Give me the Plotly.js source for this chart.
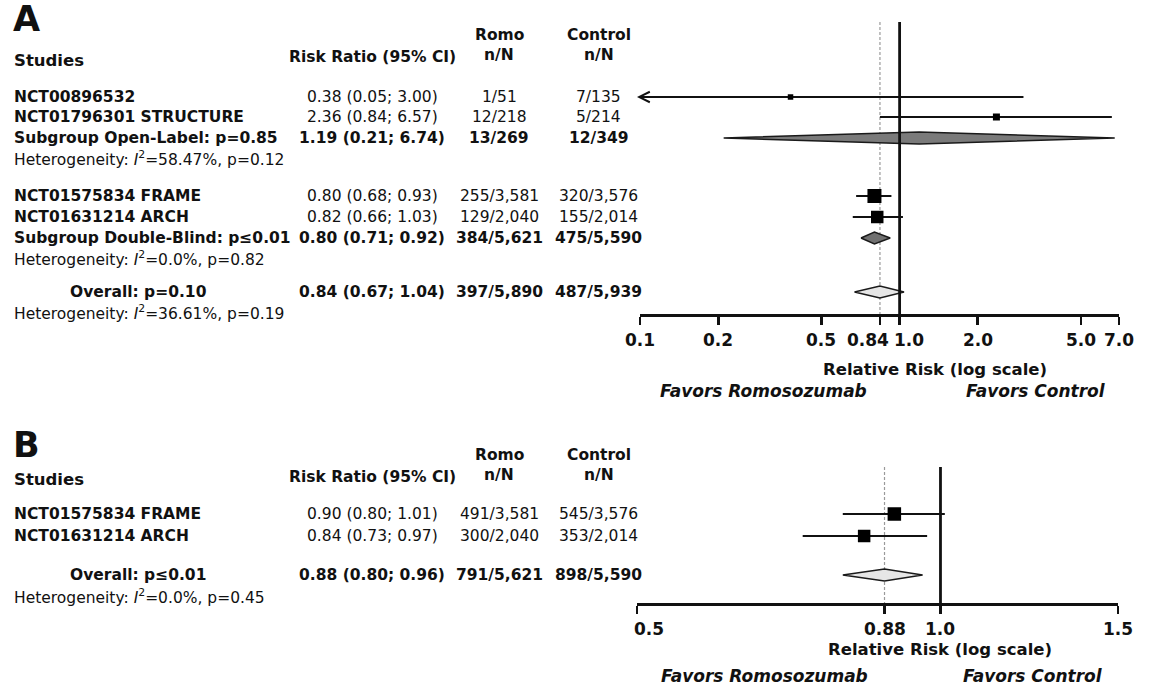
<!DOCTYPE html>
<html><head><meta charset="utf-8">
<script src="https://cdn.plot.ly/plotly-3.0.1.min.js"></script>
<style>html,body{margin:0;padding:0;background:#fff}</style>
</head><body><div id="chart" style="width:1150px;height:686px"></div>
<script>
// ---------- DATA: panel A (fractures, all studies) ----------
const studiesA = ['NCT00896532', 'NCT01796301 STRUCTURE', 'NCT01575834 FRAME', 'NCT01631214 ARCH'];
const rrA = [0.38, 2.36, 0.80, 0.82];
const loA = [0.05, 0.84, 0.68, 0.66];
const hiA = [3.00, 6.57, 0.93, 1.03];
const romoA = ['1/51', '12/218', '255/3,581', '129/2,040'];
const ctrlA = ['7/135', '5/214', '320/3,576', '155/2,014'];

const sumLabelsA = ['Subgroup Open-Label: p=0.85', 'Subgroup Double-Blind: p\u22640.01', 'Overall: p=0.10'];
const sumRrA = [1.19, 0.80, 0.84];
const sumLoA = [0.21, 0.71, 0.67];
const sumHiA = [6.74, 0.92, 1.04];
const sumRomoA = ['13/269', '384/5,621', '397/5,890'];
const sumCtrlA = ['12/349', '475/5,590', '487/5,939'];
const hetI2A = ['58.47%', '0.0%', '36.61%'];
const hetPA = ['0.12', '0.82', '0.19'];

const tickValsA = [0.1, 0.2, 0.5, 0.84, 1.0, 2.0, 5.0, 7.0];
const tickTextA = ['0.1', '0.2', '0.5', '0.84', '1.0', '2.0', '5.0', '7.0'];

// ---------- DATA: panel B ----------
const studiesB = ['NCT01575834 FRAME', 'NCT01631214 ARCH'];
const rrB = [0.90, 0.84];
const loB = [0.80, 0.73];
const hiB = [1.01, 0.97];
const romoB = ['491/3,581', '300/2,040'];
const ctrlB = ['545/3,576', '353/2,014'];

const sumLabelsB = ['Overall: p\u22640.01'];
const sumRrB = [0.88];
const sumLoB = [0.80];
const sumHiB = [0.96];
const sumRomoB = ['791/5,621'];
const sumCtrlB = ['898/5,590'];
const hetI2B = ['0.0%'];
const hetPB = ['0.45'];

const tickValsB = [0.5, 0.88, 1.0, 1.5];
const tickTextB = ['0.5', '0.88', '1.0', '1.5'];

const nullValue = 1.0;

// ---------- LAYOUT / STYLE (positions in page pixels) ----------
const W = 1150, H = 686;
const FONT = 'DejaVu Sans, Verdana, sans-serif';
const TXT = 15.5;
const INK = '#111';

const A = {
  axisY: 315, topY: 22, xDom: [640, 1119],
  studyRows: [97, 117, 196, 217], sumRows: [138, 238, 292], hetRows: [158, 258, 312],
  boxSize: [5.5, 7, 14, 12.5], sumFill: ['#7a7a7a', '#707070', '#e6e6e6'], sumIndent: [false, false, true],
  letterY: 19, headY1: 35, headY2: 55, studiesY: 60, rrHeadY: 57,
  tickLabelY: 340, tickShift: [0, 0, 0, -12, 9, 0, 0, 0],
  titleY: 369, titleX: 935, favY: 391, favL: 763, favR: 1036
};
const B = {
  axisY: 604, topY: 467, xDom: [637, 1118],
  studyRows: [514, 536], sumRows: [575], hetRows: [596],
  boxSize: [13.5, 12.5], sumFill: ['#e6e6e6'], sumIndent: [true],
  letterY: 445, headY1: 455, headY2: 475, studiesY: 479, rrHeadY: 477,
  tickLabelY: 629, tickShift: [12, 0, 0, 0],
  titleY: 649, titleX: 940, favY: 676, favL: 764, favR: 1033
};
const COL = {name: 12, indent: 68, rr: 372, romo: 499, ctrl: 599};

const fmtRR = (v, l, h) => `${v.toFixed(2)} (${l.toFixed(2)}; ${h.toFixed(2)})`;

function txt(x, y, text, opt) {
  return Object.assign({
    xref: 'paper', yref: 'y', x: x / W, y: y, text: text, showarrow: false,
    xanchor: 'left', yanchor: 'middle',
    font: {family: FONT, size: TXT, color: INK}
  }, opt || {});
}

const traces = [];
const annotations = [];

function buildPanel(P, letter, xa, d) {
  // text table
  annotations.push(txt(11, P.letterY, '<b>' + letter + '</b>', {font: {family: FONT, size: 35, color: INK}}));
  annotations.push(txt(COL.name, P.studiesY, '<b>Studies</b>', {font: {family: FONT, size: 16.5, color: INK}}));
  annotations.push(txt(COL.rr, P.rrHeadY, '<b>Risk Ratio (95% CI)</b>', {xanchor: 'center'}));
  annotations.push(txt(COL.romo, P.headY1, '<b>Romo</b>', {xanchor: 'center'}));
  annotations.push(txt(COL.romo, P.headY2, '<b>n/N</b>', {xanchor: 'center'}));
  annotations.push(txt(COL.ctrl, P.headY1, '<b>Control</b>', {xanchor: 'center'}));
  annotations.push(txt(COL.ctrl, P.headY2, '<b>n/N</b>', {xanchor: 'center'}));

  d.studies.forEach((s, i) => {
    const y = P.studyRows[i];
    annotations.push(txt(COL.name, y, '<b>' + s + '</b>'));
    annotations.push(txt(COL.rr, y, fmtRR(d.rr[i], d.lo[i], d.hi[i]), {xanchor: 'center'}));
    annotations.push(txt(COL.romo, y, d.romo[i], {xanchor: 'center'}));
    annotations.push(txt(COL.ctrl, y, d.ctrl[i], {xanchor: 'center'}));
  });
  d.sumLabels.forEach((s, i) => {
    const y = P.sumRows[i];
    annotations.push(txt(P.sumIndent[i] ? COL.indent : COL.name, y, '<b>' + s + '</b>'));
    annotations.push(txt(COL.rr, y, '<b>' + fmtRR(d.sumRr[i], d.sumLo[i], d.sumHi[i]) + '</b>', {xanchor: 'center'}));
    annotations.push(txt(COL.romo, y, '<b>' + d.sumRomo[i] + '</b>', {xanchor: 'center'}));
    annotations.push(txt(COL.ctrl, y, '<b>' + d.sumCtrl[i] + '</b>', {xanchor: 'center'}));
    annotations.push(txt(COL.name, P.hetRows[i],
      'Heterogeneity: <i>I</i><sup>2</sup>=' + d.hetI2[i] + ', p=' + d.hetP[i]));
  });

  const ya = 'y';
  const pooled = d.sumRr[d.sumRr.length - 1];
  // dashed pooled-estimate line
  traces.push({x: [pooled, pooled], y: [P.topY, P.axisY], xaxis: xa, yaxis: ya, mode: 'lines',
    line: {color: '#9a9a9a', width: 1.2, dash: '3px,2px'}, hoverinfo: 'skip'});
  // CI lines
  d.studies.forEach((s, i) => {
    traces.push({x: [d.lo[i], d.hi[i]], y: [P.studyRows[i], P.studyRows[i]], xaxis: xa, yaxis: ya,
      mode: 'lines', line: {color: INK, width: 1.8}, hoverinfo: 'skip'});
  });
  // squares
  traces.push({x: d.rr, y: P.studyRows, xaxis: xa, yaxis: ya, mode: 'markers',
    marker: {symbol: 'square', color: '#000', opacity: 1, size: P.boxSize, line: {width: 0}}, hoverinfo: 'skip'});
  // diamonds
  d.sumRr.forEach((v, i) => {
    const y = P.sumRows[i], h = 6;
    traces.push({x: [d.sumLo[i], v, d.sumHi[i], v, d.sumLo[i]], y: [y, y - h, y, y + h, y],
      xaxis: xa, yaxis: ya, mode: 'lines', fill: 'toself', fillcolor: P.sumFill[i],
      line: {color: '#1a1a1a', width: 1.4}, hoverinfo: 'skip'});
  });
  // line of no effect
  traces.push({x: [nullValue, nullValue], y: [P.topY, P.axisY], xaxis: xa, yaxis: ya, mode: 'lines',
    line: {color: INK, width: 2.8}, hoverinfo: 'skip'});

  // tick labels
  d.tickVals.forEach((v, i) => {
    annotations.push({xref: xa, yref: 'y', x: Math.log10(v), y: P.tickLabelY, text: '<b>' + d.tickText[i] + '</b>',
      showarrow: false, xanchor: 'center', yanchor: 'middle', xshift: P.tickShift[i],
      font: {family: FONT, size: 17, color: INK}});
  });
  annotations.push(txt(P.titleX, P.titleY, '<b>Relative Risk (log scale)</b>', {xanchor: 'center', font: {family: FONT, size: 16.5, color: INK}}));
  annotations.push(txt(P.favL, P.favY, '<b><i>Favors Romosozumab</i></b>', {xanchor: 'center', font: {family: FONT, size: 17, color: INK}}));
  annotations.push(txt(P.favR, P.favY, '<b><i>Favors Control</i></b>', {xanchor: 'center', font: {family: FONT, size: 17, color: INK}}));
}

const dataA = {studies: studiesA, rr: rrA, lo: loA, hi: hiA, romo: romoA, ctrl: ctrlA,
  sumLabels: sumLabelsA, sumRr: sumRrA, sumLo: sumLoA, sumHi: sumHiA, sumRomo: sumRomoA, sumCtrl: sumCtrlA,
  hetI2: hetI2A, hetP: hetPA, tickVals: tickValsA, tickText: tickTextA};
const dataB = {studies: studiesB, rr: rrB, lo: loB, hi: hiB, romo: romoB, ctrl: ctrlB,
  sumLabels: sumLabelsB, sumRr: sumRrB, sumLo: sumLoB, sumHi: sumHiB, sumRomo: sumRomoB, sumCtrl: sumCtrlB,
  hetI2: hetI2B, hetP: hetPB, tickVals: tickValsB, tickText: tickTextB};

buildPanel(A, 'A', 'x', dataA);
buildPanel(B, 'B', 'x2', dataB);

// arrow for CI extending past the left axis limit (panel A)
const minA = tickValsA[0];
loA.forEach((l, i) => {
  if (l < minA) {
    annotations.push({xref: 'x', yref: 'y', axref: 'x', ayref: 'y',
      x: Math.log10(minA), y: A.studyRows[i], ax: Math.log10(minA * 1.3), ay: A.studyRows[i],
      xshift: -3, text: '', showarrow: true, arrowhead: 5, arrowsize: 1.15, arrowwidth: 1.8,
      arrowcolor: INK, standoff: 0});
  }
});

function xAxis(P, vals) {
  return {type: 'log', range: [Math.log10(vals[0]), Math.log10(vals[vals.length - 1])],
    domain: [P.xDom[0] / W, P.xDom[1] / W], anchor: 'free', position: 1 - P.axisY / H,
    showline: true, linecolor: INK, linewidth: 2.8, ticks: 'outside', ticklen: 8, tickwidth: 2.8,
    tickcolor: INK, tickmode: 'array', tickvals: vals, showticklabels: false,
    showgrid: false, zeroline: false, fixedrange: true};
}

const layout = {
  width: W, height: H, autosize: false,
  margin: {l: 0, r: 0, t: 0, b: 0, pad: 0},
  paper_bgcolor: '#fff', plot_bgcolor: 'rgba(0,0,0,0)',
  showlegend: false,
  xaxis: xAxis(A, tickValsA),
  xaxis2: xAxis(B, tickValsB),
  yaxis: {range: [H, 0], domain: [0, 1], visible: false, showgrid: false, zeroline: false, fixedrange: true},
  annotations: annotations
};

Plotly.newPlot('chart', traces, layout, {displayModeBar: false, staticPlot: true});
</script>
</body></html>
